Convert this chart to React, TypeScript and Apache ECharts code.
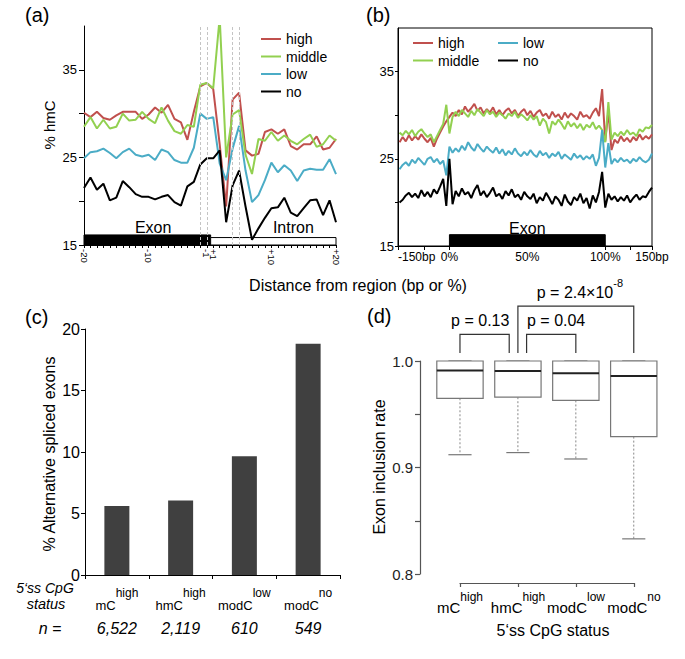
import React, { useEffect, useRef } from 'react';
import * as echarts from 'echarts';

const FONT = '"Liberation Sans", Arial, Helvetica, sans-serif';
const RED = '#c0504d';
const GREEN = '#92d050';
const BLUE = '#4bacc6';
const BLACK = '#000000';
const seriesNames = ['high', 'middle', 'low', 'no'];
const seriesColors = [RED, GREEN, BLUE, BLACK];

// ---------- panel (a): position index 0..39 = -20..-1, +1..+20 ----------
const aTickPos = [0, 10, 19, 20, 29, 39];
const aTickText = ['-20', '-10', '-1', '+1', '+10', '+20'];
const aHigh = [
  30.1, 29.6, 30.2, 29.5, 29.3, 29.8, 30.2, 30.2, 30.2, 29.4,
  29.9, 30.7, 30.1, 31.0, 29.4, 29.0, 27.0, 30.2, 33.1, 33.5,
  32.8, 26.5, 19.4, 31.6, 32.4, 25.8, 25.2, 25.4, 27.9, 28.2,
  27.7, 28.2, 26.3, 25.9, 26.5, 26.5, 27.4, 25.9, 26.1, 27.1,
];
const aMiddle = [
  28.5, 29.6, 28.3, 29.3, 28.3, 28.5, 30.0, 29.2, 29.3, 30.2,
  29.4, 28.9, 30.7, 29.2, 28.0, 27.7, 28.7, 28.5, 33.3, 33.5,
  32.9, 41.0, 25.0, 29.9, 30.4, 25.3, 23.1, 27.1, 26.9, 27.9,
  26.9, 27.5, 26.9, 26.5, 27.1, 27.6, 26.2, 26.5, 27.5, 26.9,
];
const aLow = [
  24.9, 25.6, 25.7, 26.0, 25.5, 24.9, 25.6, 26.0, 25.3, 25.1,
  25.3, 24.7, 25.9, 25.6, 24.7, 24.4, 24.4, 26.1, 30.0, 29.4,
  29.6, 24.3, 22.4, 26.0, 28.6, 23.5, 19.9, 20.7, 22.4, 24.4,
  23.3, 24.1, 23.5, 22.3, 23.5, 23.7, 23.6, 23.6, 24.8, 23.1,
];
const aNo = [
  21.5, 22.7, 21.3, 22.0, 20.1, 20.4, 22.3, 21.6, 20.8, 20.5,
  20.5, 20.2, 20.5, 20.7, 19.9, 19.5, 21.7, 22.2, 24.2, 24.9,
  24.9, 25.8, 17.6, 21.8, 23.5, 19.4, 15.6, 16.9, 18.1, 19.2,
  19.3, 20.4, 18.7, 18.3, 19.2, 20.1, 20.2, 18.4, 20.1, 17.6,
];
const aSpliceMarks = [18, 19, 23, 24];
const aRegionNames = ['Exon', 'Intron'];
const aRegionFrom = [0, 19.6];
const aRegionTo = [19.6, 39];
const aRegionTop = [16.15, 15.85];
const aRegionFilled = [1, 0];
const aRegionLabelX = [10.7, 32.4];

// ---------- panel (b): bins from -32 to 130, step 2 (0..100 = exon %) ----------
const bStart = -32;
const bStep = 2;
const bHigh = [
  26.9, 27.5, 27.0, 27.7, 27.1, 27.6, 27.2, 27.8, 27.3, 26.9,
  27.4, 26.4, 27.3, 28.0, 28.7, 29.3, 29.8, 30.3, 29.9, 30.6,
  30.1, 31.0, 30.4, 30.8, 31.3, 30.5, 30.9, 30.2, 30.7, 30.3,
  30.9, 30.1, 30.6, 30.0, 30.5, 30.8, 30.2, 30.6, 29.9, 30.4,
  30.7, 30.0, 30.5, 29.8, 30.3, 30.6, 29.9, 30.2, 29.6, 30.4,
  29.8, 30.1, 29.5, 30.3, 29.7, 30.2, 29.9, 29.5, 30.4, 29.8,
  30.0, 29.6, 30.3, 30.8, 29.9, 33.0, 27.0, 30.5, 26.0, 27.2,
  26.8, 27.6, 27.0, 27.4, 26.9, 27.5, 27.1, 27.8, 27.2, 27.6,
  27.3, 27.8,
];
const bMiddle = [
  28.0, 27.7, 28.2, 27.8, 28.3, 27.6, 28.1, 28.4, 27.9, 27.5,
  27.8, 26.9, 27.6, 28.3, 29.0, 31.2, 27.9, 29.8, 30.4, 29.9,
  30.6, 30.2, 29.8, 30.5, 30.0, 30.7, 30.3, 29.9, 30.6, 30.1,
  30.4, 29.8, 30.3, 30.0, 29.6, 30.2, 29.9, 30.4, 29.7, 30.1,
  29.8, 29.4, 30.0, 29.5, 29.9, 28.8, 29.6, 29.2, 27.9, 29.3,
  28.9, 29.5, 29.0, 28.4, 29.3, 28.7, 29.1, 28.5, 29.0, 28.3,
  28.9, 28.6, 29.2, 28.4, 28.8, 28.3, 26.9, 31.5, 27.2, 28.0,
  27.6, 28.1, 27.7, 28.3, 27.8, 28.0, 27.6, 28.4, 28.1, 28.6,
  28.5, 28.9,
];
const bLow = [
  23.8, 24.3, 24.6, 24.2, 24.9, 24.5, 25.1, 24.7, 24.3, 25.0,
  25.2, 24.6, 25.0, 24.4, 24.8, 23.1, 26.4, 25.7, 26.2, 25.8,
  26.5, 26.0, 26.9, 26.3, 25.9, 26.7, 26.2, 25.8, 26.4, 26.0,
  25.7, 26.3, 25.6, 26.1, 25.4, 25.9, 25.5, 26.2, 25.6, 25.3,
  25.8, 25.4, 26.0, 25.5, 25.2, 25.9, 25.4, 25.7, 25.1, 25.6,
  25.3, 25.8, 25.0, 25.5, 25.2, 24.9, 25.6, 25.1, 25.4, 24.9,
  25.3, 25.0, 25.5, 24.2, 25.1, 28.3, 24.0, 26.8, 24.4, 25.0,
  24.6, 25.1, 24.7, 24.9, 24.5, 25.0, 24.7, 25.2, 24.8, 24.6,
  24.9, 25.6,
];
const bNo = [
  20.0, 20.3, 20.8, 21.1, 20.6, 21.0, 20.5, 21.4, 20.7, 21.2,
  20.6, 21.5, 21.0, 21.8, 22.7, 19.6, 25.0, 19.8, 21.3, 20.7,
  21.6, 20.9, 21.2, 20.5, 21.4, 22.0, 20.8, 21.3, 20.6, 21.1,
  21.7, 20.7, 21.0, 20.4, 21.3, 20.8, 21.5, 20.6, 20.9, 20.3,
  21.2, 20.7, 20.4, 21.0, 19.9, 20.6, 20.2, 21.1, 20.5, 19.8,
  20.7, 20.3, 19.6, 20.9, 20.1, 19.7, 20.6, 20.2, 21.0, 19.9,
  20.5, 19.3, 20.8, 20.0, 21.2, 23.5, 19.4, 21.0, 20.3, 20.7,
  20.1, 20.6, 20.2, 20.8, 20.0, 20.5, 20.9, 20.3, 20.7, 20.6,
  21.2, 21.7,
];
const bTickPos = [-33, -16, 0, 100, 116, 130];
const bLabelPos = [-33, 0, 50, 100, 130];
const bLabelText = ['-150bp', '0%', '50%', '100%', '150bp'];
const bRegionNames = ['Exon'];
const bRegionFrom = [0];
const bRegionTo = [100];
const bRegionTop = [16.3];
const bRegionLabelX = [50];

// ---------- panels (c) and (d) categories ----------
const catBase = ['mC', 'hmC', 'modC', 'modC'];
const catSup = ['high', 'high', 'low', 'no'];
const cValues = [5.6, 6.05, 9.65, 18.8];
const cN = ['6,522', '2,119', '610', '549'];

const dLow = [0.912, 0.914, 0.908, 0.833];
const dQ1 = [0.965, 0.966, 0.963, 0.929];
const dMedian = [0.991, 0.9905, 0.9885, 0.986];
const dQ3 = [1.0, 1.0, 1.0, 1.0];
const dHigh = [1.0, 1.0, 1.0, 1.0];
const dBracketFrom = [0, 1.15, 1];
const dBracketTo = [0.85, 2, 3];
const dBracketTop = [1.025, 1.025, 1.0515];
const dBracketBase = 1.0075;
const dBracketLabelX = [0.35, 1.66, 2.07];
const dBracketLabels = ['p = 0.13', 'p = 0.04', 'p = 2.4×10'];
const dBracketSup = ['', '', '-8'];

const txt = (size: number, extra: any = {}) => ({ fontSize: size, fontFamily: FONT, color: '#000', ...extra });

function lineSeries(vals: number[], xOf: (i: number) => number, idx: number, axis: number, extra: any = {}) {
  return {
    type: 'line',
    name: seriesNames[idx],
    xAxisIndex: axis,
    yAxisIndex: axis,
    data: vals.map((v, i) => [xOf(i), v]),
    symbol: 'none',
    showSymbol: false,
    clip: true,
    silent: true,
    z: 3,
    lineStyle: { color: seriesColors[idx], width: 2 },
    itemStyle: { color: seriesColors[idx] },
    ...extra,
  };
}

function regionRender(names: string[]) {
  return (params: any, api: any) => {
    const i = params.dataIndex;
    const p0 = api.coord([api.value(0), api.value(3)]);
    const p1 = api.coord([api.value(1), api.value(2)]);
    const lab = api.coord([api.value(5), api.value(6)]);
    const filled = api.value(4) === 1;
    return {
      type: 'group',
      children: [
        {
          type: 'rect',
          shape: { x: p0[0], y: p0[1], width: p1[0] - p0[0], height: p1[1] - p0[1] },
          style: { fill: filled ? '#000' : '#fff', stroke: '#000', lineWidth: 1 },
        },
        {
          type: 'text',
          x: lab[0],
          y: lab[1],
          style: { text: names[i], fontSize: 16, fontFamily: FONT, fill: '#000', align: 'center', verticalAlign: 'middle' },
        },
      ],
    };
  };
}

function boxRender(params: any, api: any) {
  const x = api.value(0);
  const lo = api.coord([x, api.value(1)]);
  const q1 = api.coord([x, api.value(2)]);
  const md = api.coord([x, api.value(3)]);
  const q3 = api.coord([x, api.value(4)]);
  const hi = api.coord([x, api.value(5)]);
  const w = api.size([0.8, 0])[0];
  const cx = lo[0];
  const cap = w / 2;
  return {
    type: 'group',
    children: [
      { type: 'line', shape: { x1: cx, y1: q1[1], x2: cx, y2: lo[1] }, style: { stroke: '#888', lineWidth: 1, lineDash: [2, 2] } },
      { type: 'line', shape: { x1: cx - cap / 2, y1: lo[1], x2: cx + cap / 2, y2: lo[1] }, style: { stroke: '#777', lineWidth: 1.2 } },
      { type: 'line', shape: { x1: cx, y1: q3[1], x2: cx, y2: hi[1] }, style: { stroke: '#888', lineWidth: 1, lineDash: [2, 2] } },
      { type: 'line', shape: { x1: cx - cap / 2, y1: hi[1], x2: cx + cap / 2, y2: hi[1] }, style: { stroke: '#777', lineWidth: 1.2 } },
      { type: 'rect', shape: { x: cx - w / 2, y: q3[1], width: w, height: q1[1] - q3[1] }, style: { fill: '#fff', stroke: '#777', lineWidth: 1.2 } },
      { type: 'line', shape: { x1: cx - w / 2, y1: md[1], x2: cx + w / 2, y2: md[1] }, style: { stroke: '#222', lineWidth: 2 } },
    ],
  };
}

function bracketRender(params: any, api: any) {
  const i = params.dataIndex;
  const from = api.value(0);
  const to = api.value(1);
  const top = api.value(2);
  const base = api.value(3);
  const a = api.coord([from, base]);
  const b = api.coord([from, top]);
  const c = api.coord([to, top]);
  const d = api.coord([to, base]);
  const l = api.coord([api.value(4), top]);
  const sup = dBracketSup[i];
  const text = sup ? `{a|${dBracketLabels[i]}}{s|${sup}}` : `{a|${dBracketLabels[i]}}`;
  return {
    type: 'group',
    children: [
      { type: 'polyline', shape: { points: [a, b, c, d] }, style: { stroke: '#333', lineWidth: 1.2, fill: 'none' } },
      {
        type: 'text',
        x: l[0],
        y: l[1] - 17,
        style: {
          text,
          align: 'center',
          verticalAlign: 'middle',
          rich: {
            a: { fontSize: 16, fontFamily: FONT, lineHeight: 18, padding: [6, 0, 0, 0], fill: '#000' },
            s: { fontSize: 11, fontFamily: FONT, lineHeight: 12, padding: [0, 0, 12, 0], fill: '#000' },
          },
        },
      },
    ],
  };
}

const axisLineBlack = { show: true, onZero: false, lineStyle: { color: '#000', width: 1 } };

function buildOption(): any {
  const aX = (i: number) => i;
  const bX = (i: number) => bStart + i * bStep;
  const aVals = [aHigh, aMiddle, aLow, aNo];
  const bVals = [bHigh, bMiddle, bLow, bNo];

  const series: any[] = [];
  aVals.forEach((vals, k) => {
    const extra =
      k === 0
        ? {
            markLine: {
              silent: true,
              symbol: ['none', 'none'],
              label: { show: false },
              lineStyle: { type: [3, 2], color: '#c4c4c4', width: 1 },
              data: aSpliceMarks.map((x) => ({ xAxis: x })),
            },
          }
        : {};
    series.push(lineSeries(vals, aX, k, 0, extra));
  });
  series.push({
    type: 'custom',
    xAxisIndex: 0,
    yAxisIndex: 0,
    silent: true,
    z: 1,
    renderItem: regionRender(aRegionNames),
    data: aRegionNames.map((_, i) => [aRegionFrom[i], aRegionTo[i], 15, aRegionTop[i], aRegionFilled[i], aRegionLabelX[i], 17]),
  });
  bVals.forEach((vals, k) => series.push(lineSeries(vals, bX, k, 1)));
  series.push({
    type: 'custom',
    xAxisIndex: 1,
    yAxisIndex: 1,
    silent: true,
    z: 1,
    renderItem: regionRender(bRegionNames),
    data: bRegionNames.map((_, i) => [bRegionFrom[i], bRegionTo[i], 15, bRegionTop[i], 1, bRegionLabelX[i], 17]),
  });
  series.push({
    type: 'bar',
    xAxisIndex: 2,
    yAxisIndex: 2,
    data: cValues,
    barWidth: 25,
    silent: true,
    itemStyle: { color: '#404040' },
  });
  series.push({
    type: 'custom',
    xAxisIndex: 3,
    yAxisIndex: 3,
    silent: true,
    renderItem: boxRender,
    encode: { x: 0, y: [1, 2, 3, 4, 5] },
    data: catBase.map((_, i) => [i, dLow[i], dQ1[i], dMedian[i], dQ3[i], dHigh[i]]),
  });
  series.push({
    type: 'custom',
    xAxisIndex: 3,
    yAxisIndex: 3,
    silent: true,
    renderItem: bracketRender,
    encode: { x: [0, 1], y: 2 },
    data: dBracketFrom.map((f, i) => [f, dBracketTo[i], dBracketTop[i], dBracketBase, dBracketLabelX[i]]),
  });

  const gridBase = { outerBoundsMode: 'none', containLabel: false };

  // superscript labels: line 1 height 24; main pushed down, sup pushed up
  const catRich = (main: number, sup: number, mainPad: number, supPad: number, withN: boolean) => {
    const r: any = {
      m: { fontSize: main, fontFamily: FONT, color: '#000', lineHeight: 24, padding: [mainPad, 0, 0, 0] },
      s: { fontSize: sup, fontFamily: FONT, color: '#000', lineHeight: 24, padding: [0, 0, supPad, 0] },
    };
    if (withN) r.n = { fontSize: 16, fontFamily: FONT, fontStyle: 'italic', color: '#000', lineHeight: 34 };
    return r;
  };

  const gtext = (text: string, x: number, y: number, size: number, extra: any = {}, rot = 0) => ({
    type: 'text',
    x,
    y,
    rotation: rot,
    silent: true,
    style: { text, fontSize: size, fontFamily: FONT, fill: '#000', align: 'center', verticalAlign: 'middle', ...extra },
  });

  const legendBase = {
    orient: 'vertical', padding: 0, icon: 'rect',
    itemWidth: 20, itemHeight: 2, itemGap: 3.5, selectedMode: false,
    textStyle: txt(14),
  };

  return {
    animation: false,
    backgroundColor: '#ffffff',
    textStyle: { fontFamily: FONT, color: '#000' },
    grid: [
      { ...gridBase, left: 84, top: 26, width: 252, height: 219 },
      { ...gridBase, left: 398, top: 28, width: 254, height: 218, show: true, borderColor: '#000', borderWidth: 1, backgroundColor: 'transparent' },
      { ...gridBase, left: 85, top: 329, width: 255, height: 246 },
      { ...gridBase, left: 420, top: 361, width: 252, height: 213 },
      { ...gridBase, left: 460, top: 361, width: 174, height: 213 },
    ],
    xAxis: [
      {
        gridIndex: 0, type: 'value', min: 0, max: 39, interval: 1,
        axisLine: axisLineBlack,
        axisTick: { show: true, length: 3, lineStyle: { color: '#000' } },
        axisLabel: {
          customValues: aTickPos,
          formatter: (v: number) => aTickText[aTickPos.indexOf(v)] ?? '',
          rotate: -90, margin: 4, ...txt(9.5),
        },
        splitLine: { show: false },
      },
      {
        gridIndex: 1, type: 'value', min: -33, max: 130,
        axisLine: axisLineBlack,
        axisTick: { show: true, length: 4, customValues: bTickPos, lineStyle: { color: '#000' } },
        axisLabel: {
          customValues: bLabelPos,
          formatter: (v: number) => bLabelText[bLabelPos.indexOf(v)] ?? '',
          margin: 5, showMinLabel: true, showMaxLabel: true, alignMinLabel: 'left', ...txt(12),
        },
        splitLine: { show: false },
      },
      {
        gridIndex: 2, type: 'category', data: catBase.map((b, i) => b + catSup[i]),
        axisLine: axisLineBlack,
        axisTick: { show: true, alignWithLabel: false, length: 4, lineStyle: { color: '#000' } },
        axisLabel: {
          interval: 0, margin: 12, color: '#000',
          formatter: (_v: string, i: number) => `{m|${catBase[i]}}{s|${catSup[i]}}\n{n|${cN[i]}}`,
          rich: catRich(13, 12, 12, 12, true),
        },
        splitLine: { show: false },
      },
      { gridIndex: 3, type: 'value', min: -0.69, max: 3.66, show: false },
      {
        gridIndex: 4, type: 'value', min: 0, max: 3, interval: 1, offset: 9,
        axisLine: { show: true, onZero: false, lineStyle: { color: '#555', width: 1.2 } },
        axisTick: { show: true, length: 4, lineStyle: { color: '#555', width: 1.2 } },
        axisLabel: {
          margin: 7.5, color: '#000',
          formatter: (v: number) => `{m|${catBase[v]}}{s|${catSup[v]}}`,
          rich: catRich(15, 12, 10, 11, false),
        },
        splitLine: { show: false },
      },
    ],
    yAxis: [
      {
        gridIndex: 0, type: 'value', min: 15, max: 40,
        axisLine: axisLineBlack,
        axisTick: { show: true, length: 5, customValues: [15, 20, 25, 30, 35], lineStyle: { color: '#000' } },
        axisLabel: { customValues: [15, 25, 35], margin: 7, ...txt(13) },
        splitLine: { show: false },
      },
      {
        gridIndex: 1, type: 'value', min: 15, max: 40,
        axisLine: axisLineBlack,
        axisTick: { show: true, length: 3, customValues: [15, 20, 25, 30, 35], lineStyle: { color: '#000' } },
        axisLabel: { customValues: [15, 25, 35], margin: 4, ...txt(13) },
        splitLine: { show: false },
      },
      {
        gridIndex: 2, type: 'value', min: 0, max: 20, interval: 5,
        axisLine: axisLineBlack,
        axisTick: { show: true, length: 4, lineStyle: { color: '#000' } },
        axisLabel: { margin: 5, ...txt(16) },
        splitLine: { show: false },
      },
      {
        gridIndex: 3, type: 'value', min: 0.8, max: 1.0,
        axisLine: { show: true, onZero: false, lineStyle: { color: '#555', width: 1.2 } },
        axisTick: { show: true, length: 5, customValues: [0.8, 0.85, 0.9, 0.95, 1.0], lineStyle: { color: '#555', width: 1.2 } },
        axisLabel: { customValues: [0.8, 0.9, 1.0], formatter: (v: number) => v.toFixed(1), margin: 7, ...txt(15, { color: '#222' }) },
        splitLine: { show: false },
      },
      { gridIndex: 4, type: 'value', min: 0.8, max: 1.0, show: false },
    ],
    legend: [
      { ...legendBase, data: seriesNames, left: 261, top: 32 },
      { ...legendBase, data: ['high', 'middle'], left: 413, top: 36 },
      { ...legendBase, data: ['low', 'no'], left: 498, top: 36 },
    ],
    graphic: [
      gtext('(a)', 25, 15, 20, { align: 'left' }),
      gtext('(b)', 366, 15, 20, { align: 'left' }),
      gtext('(c)', 25, 317, 20, { align: 'left' }),
      gtext('(d)', 367, 316, 20, { align: 'left' }),
      gtext('% hmC', 49, 125, 15, {}, Math.PI / 2),
      gtext('Distance from region (bp or %)', 358, 285, 16),
      gtext('% Alternative spliced exons', 49, 454, 16, {}, Math.PI / 2),
      gtext('5‘ss CpG', 45, 588, 14, { fontStyle: 'italic' }),
      gtext('status', 46, 604, 14.5, { fontStyle: 'italic' }),
      gtext('n =', 50, 628, 16, { fontStyle: 'italic' }),
      gtext('Exon inclusion rate', 379, 467, 16, {}, Math.PI / 2),
      gtext('5‘ss CpG status', 553, 630, 16),
    ],
    series,
  };
}

export default function App() {
  const ref = useRef<HTMLDivElement>(null);
  useEffect(() => {
    if (!ref.current) return;
    const chart = echarts.init(ref.current, null, { renderer: 'svg' });
    chart.setOption(buildOption());
    return () => chart.dispose();
  }, []);
  return (
    <div
      ref={ref}
      style={{ position: 'fixed', left: 0, top: 0, width: 685, height: 659, background: '#fff' }}
    />
  );
}
